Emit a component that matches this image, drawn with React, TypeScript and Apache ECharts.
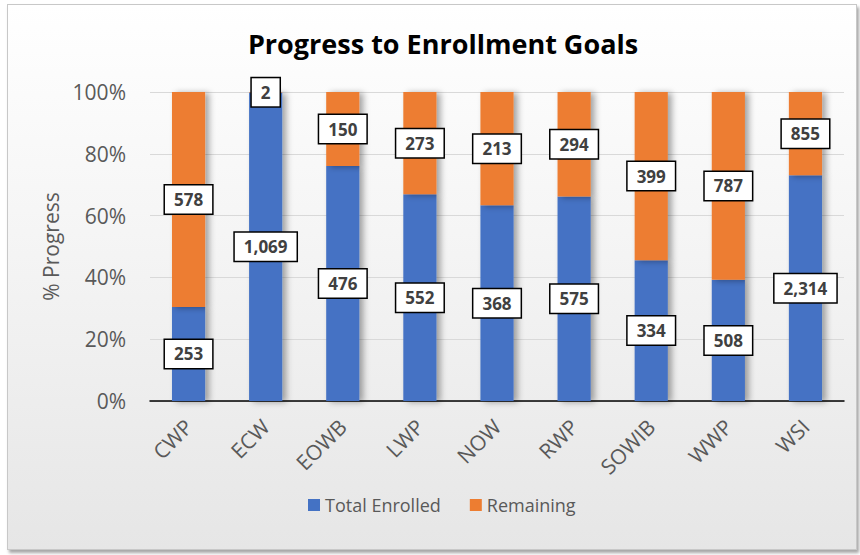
import React, { useEffect, useRef } from "react";
import * as echarts from "echarts";

const categories = ["CWP", "ECW", "EOWB", "LWP", "NOW", "RWP", "SOWIB", "WWP", "WSI"];
const totalEnrolled = [253, 1069, 476, 552, 368, 575, 334, 508, 2314];
const remaining = [578, 2, 150, 273, 213, 294, 399, 787, 855];
const yTicks = [0, 20, 40, 60, 80, 100];

const FONT = "'Open Sans', 'Noto Sans', sans-serif";

export default function App() {
  const ref = useRef<HTMLDivElement>(null);

  useEffect(() => {
    if (!ref.current) return;
    const chart = echarts.init(ref.current, undefined, { renderer: "svg" });
    const totals = totalEnrolled.map((v, i) => v + remaining[i]);
    const enrolledPct = totalEnrolled.map((v, i) => ({ value: (v / totals[i]) * 100, raw: v }));
    const remainingPct = remaining.map((v, i) => ({ value: (v / totals[i]) * 100, raw: v }));

    const labelStyle = {
      show: true,
      position: "inside" as const,
      formatter: (p: any) => p.data.raw.toLocaleString("en-US"),
      fontFamily: FONT,
      fontSize: 17,
      fontWeight: "bold" as const,
      color: "#404040",
      backgroundColor: "#ffffff",
      borderColor: "#000000",
      borderWidth: 1.5,
      padding: [6, 9, 5, 9],
    };

    const shadow = {
      shadowBlur: 6,
      shadowOffsetX: 4,
      shadowOffsetY: 1,
      shadowColor: "rgba(0,0,0,0.35)",
    };

    chart.setOption({
      animation: false,
      backgroundColor: "transparent",
      title: {
        text: "Progress to Enrollment Goals",
        left: 438,
        top: 25,
        textAlign: "center",
        textStyle: {
          fontFamily: FONT,
          fontSize: 27,
          fontWeight: "bold",
          color: "#000000",
        },
      },
      legend: {
        top: 496,
        left: 308,
        padding: 0,
        itemWidth: 12,
        itemHeight: 12,
        itemGap: 29,
        icon: "rect",
        textStyle: { fontFamily: FONT, fontSize: 18, color: "#595959" },
        data: ["Total Enrolled", "Remaining"],
      },
      grid: { left: 150, right: 16, top: 92, bottom: 154, containLabel: false },
      xAxis: {
        type: "category",
        data: categories,
        axisTick: { show: false },
        axisLine: { lineStyle: { color: "#000000", width: 1.5 } },
        axisLabel: {
          rotate: 45,
          fontFamily: FONT,
          fontSize: 21,
          color: "#595959",
          margin: 22,
        },
      },
      yAxis: {
        type: "value",
        min: 0,
        max: 100,
        interval: 20,
        name: "% Progress",
        nameLocation: "middle",
        nameGap: 88,
        nameTextStyle: { fontFamily: FONT, fontSize: 21, color: "#595959" },
        axisLabel: {
          formatter: (v: number) => (yTicks.includes(v) ? v + "%" : ""),
          fontFamily: FONT,
          fontSize: 21,
          color: "#595959",
          margin: 24,
        },
        splitLine: { lineStyle: { color: "#d9d9d9", width: 1 } },
        axisLine: { show: false },
        axisTick: { show: false },
      },
      series: [
        {
          name: "Total Enrolled",
          type: "bar",
          stack: "total",
          barWidth: "43%",
          data: enrolledPct,
          itemStyle: { color: "#4472C4", ...shadow },
          label: labelStyle,
          z: 2,
        },
        {
          name: "Remaining",
          type: "bar",
          stack: "total",
          barWidth: "43%",
          data: remainingPct,
          itemStyle: { color: "#ED7D31", ...shadow },
          label: labelStyle,
          z: 2,
        },
      ],
    });
    return () => chart.dispose();
  }, []);

  return (
    <div style={{ position: "fixed", left: 0, top: 0, width: 860, height: 555, background: "#ffffff" }}>
      <div
        style={{
          position: "absolute",
          left: 7,
          top: 4,
          width: 848,
          height: 544,
          border: "1px solid #c8c8c8",
          background: "linear-gradient(to bottom, #ffffff 0%, #f3f3f3 50%, #e6e6e6 100%)",
          boxShadow: "2px 3px 3px rgba(0,0,0,0.35)",
        }}
      />
      <div ref={ref} style={{ position: "absolute", left: 0, top: 0, width: 860, height: 555 }} />
    </div>
  );
}
